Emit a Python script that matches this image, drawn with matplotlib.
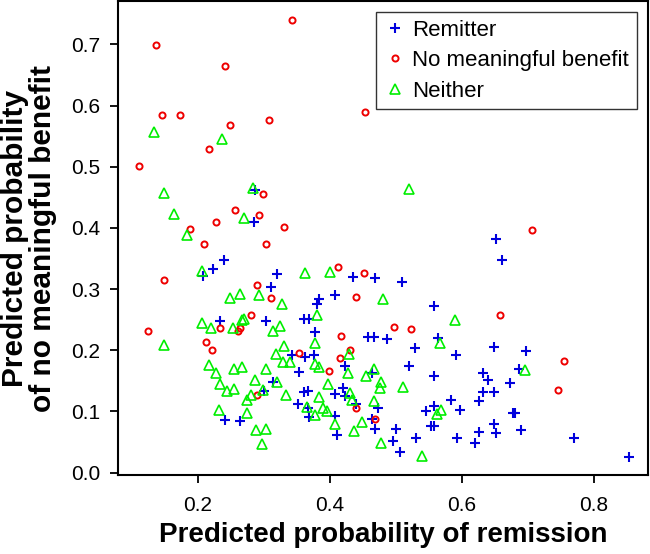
import matplotlib
matplotlib.use('Agg')
import matplotlib.pyplot as plt

plt.rcParams['font.family'] = ['Liberation Sans', 'DejaVu Sans']

# Remitter
rem_x = [0.286, 0.285, 0.652, 0.660, 0.468, 0.509, 0.557, 0.457, 0.467, 0.486,
         0.564, 0.529, 0.649, 0.697, 0.591, 0.520, 0.687, 0.463, 0.558, 0.632,
         0.639, 0.673, 0.632, 0.648, 0.583, 0.626, 0.473, 0.558, 0.545, 0.597,
         0.677, 0.681, 0.463, 0.468, 0.500, 0.553, 0.558, 0.649, 0.652, 0.626,
         0.690, 0.531, 0.593, 0.619, 0.769, 0.495, 0.506, 0.853,
         0.208, 0.222, 0.240, 0.320, 0.310, 0.234, 0.303, 0.383, 0.381, 0.408,
         0.435, 0.360, 0.368, 0.377, 0.342, 0.362, 0.376, 0.353, 0.423, 0.313,
         0.300, 0.360, 0.367, 0.352, 0.367, 0.368, 0.408, 0.420, 0.423, 0.440,
         0.408, 0.410, 0.241, 0.264]
rem_y = [0.462, 0.410, 0.382, 0.348, 0.318, 0.312, 0.273, 0.221, 0.222, 0.219,
         0.220, 0.204, 0.205, 0.198, 0.192, 0.175, 0.170, 0.162, 0.158, 0.162,
         0.152, 0.146, 0.131, 0.132, 0.119, 0.117, 0.106, 0.109, 0.101, 0.103,
         0.097, 0.097, 0.087, 0.072, 0.072, 0.076, 0.076, 0.079, 0.064, 0.067,
         0.069, 0.057, 0.056, 0.049, 0.057, 0.051, 0.034, 0.026,
         0.321, 0.332, 0.347, 0.324, 0.303, 0.247, 0.247, 0.284, 0.276, 0.290,
         0.320, 0.251, 0.251, 0.229, 0.192, 0.189, 0.192, 0.165, 0.174, 0.148,
         0.133, 0.132, 0.134, 0.112, 0.106, 0.091, 0.128, 0.138, 0.125, 0.112,
         0.092, 0.062, 0.086, 0.084]

# No meaningful benefit
nmb_x = [0.343, 0.136, 0.241, 0.453, 0.145, 0.173, 0.307, 0.249, 0.217, 0.110,
         0.299, 0.256, 0.293, 0.227, 0.330, 0.188, 0.209, 0.303,
         0.706, 0.451, 0.657, 0.497, 0.523, 0.755, 0.745, 0.468,
         0.148, 0.124, 0.290, 0.310, 0.281, 0.234, 0.264, 0.261, 0.212, 0.221,
         0.353, 0.289, 0.412, 0.439, 0.416, 0.415, 0.430, 0.399, 0.440]
nmb_y = [0.740, 0.699, 0.664, 0.590, 0.584, 0.584, 0.577, 0.568, 0.529, 0.501,
         0.455, 0.430, 0.421, 0.409, 0.402, 0.398, 0.373, 0.374,
         0.397, 0.326, 0.258, 0.238, 0.234, 0.182, 0.135, 0.088,
         0.315, 0.232, 0.306, 0.285, 0.257, 0.237, 0.236, 0.231, 0.213, 0.201,
         0.196, 0.127, 0.336, 0.287, 0.223, 0.188, 0.201, 0.166, 0.106]

# Neither
nei_x = [0.133, 0.237, 0.149, 0.283, 0.164, 0.270, 0.184,
         0.519, 0.481, 0.590, 0.567, 0.695, 0.466, 0.477, 0.476, 0.510, 0.467,
         0.568, 0.562, 0.477, 0.540,
         0.206, 0.362, 0.400, 0.248, 0.264, 0.293, 0.328, 0.381, 0.206, 0.220,
         0.253, 0.266, 0.269, 0.314, 0.324, 0.149, 0.330, 0.318, 0.378, 0.329,
         0.340, 0.377, 0.384, 0.217, 0.227, 0.254, 0.266, 0.303, 0.286, 0.233,
         0.244, 0.255, 0.320, 0.397, 0.429, 0.427, 0.455, 0.299, 0.280, 0.274,
         0.333, 0.384, 0.431, 0.433, 0.365, 0.377, 0.390, 0.395, 0.232, 0.275,
         0.288, 0.303, 0.297, 0.408, 0.437, 0.448]
nei_y = [0.556, 0.546, 0.457, 0.465, 0.423, 0.416, 0.389,
         0.463, 0.284, 0.249, 0.212, 0.167, 0.170, 0.148, 0.138, 0.140, 0.117,
         0.103, 0.096, 0.049, 0.027,
         0.329, 0.327, 0.328, 0.285, 0.292, 0.291, 0.275, 0.258, 0.244, 0.237,
         0.236, 0.250, 0.251, 0.231, 0.240, 0.209, 0.207, 0.194, 0.212, 0.180,
         0.180, 0.178, 0.173, 0.176, 0.163, 0.170, 0.173, 0.170, 0.151, 0.144,
         0.134, 0.136, 0.148, 0.144, 0.194, 0.162, 0.158, 0.135, 0.127, 0.119,
         0.127, 0.124, 0.130, 0.119, 0.107, 0.094, 0.105, 0.101, 0.102, 0.098,
         0.069, 0.072, 0.046, 0.080, 0.068, 0.082]

x_ticks = [0.2, 0.4, 0.6, 0.8]
y_ticks = [0.0, 0.1, 0.2, 0.3, 0.4, 0.5, 0.6, 0.7]

fig = plt.figure(figsize=(6.5, 5.54), dpi=100)
ax = fig.add_axes([118 / 650, 1 - 475 / 554, 530 / 650, 474 / 554])

ax.plot(rem_x, rem_y, linestyle='none', marker='+', ms=7.5, mew=1.5,
        color='#0000dd', label='Remitter')
ax.plot(nmb_x, nmb_y, linestyle='none', marker='o', ms=4.4, mew=1.4,
        mfc='none', color='#ee0000', label='No meaningful benefit')
ax.plot(nei_x, nei_y, linestyle='none', marker='^', ms=7, mew=1.2,
        mfc='none', color='#00ee00', label='Neither')

ax.set_xlim(0.0788, 0.8818)
ax.set_ylim(-0.004, 0.771)
ax.set_xticks(x_ticks)
ax.set_yticks(y_ticks)
ax.set_xticklabels(['%.1f' % v for v in x_ticks])
ax.set_yticklabels(['%.1f' % v for v in y_ticks])
ax.tick_params(direction='out', length=6, width=1.3, labelsize=15, pad=7,
               colors='black')
ax.tick_params(axis='x', pad=9)
for s in ax.spines.values():
    s.set_linewidth(1.5)

ax.set_xlabel('Predicted probability of remission', fontsize=20,
              fontweight='bold', labelpad=5)
ax.set_ylabel('Predicted probability\nof no meaningful benefit', fontsize=21.5,
              fontweight='bold', labelpad=10, linespacing=1.0)

leg = ax.legend(loc='upper right', fontsize=16, frameon=True, fancybox=False,
                edgecolor='black', handletextpad=0.3, borderaxespad=0.5,
                handlelength=1.0, borderpad=0.35, labelspacing=0.42)
leg.get_frame().set_linewidth(1.0)

fig.savefig('out.png', dpi=100)
